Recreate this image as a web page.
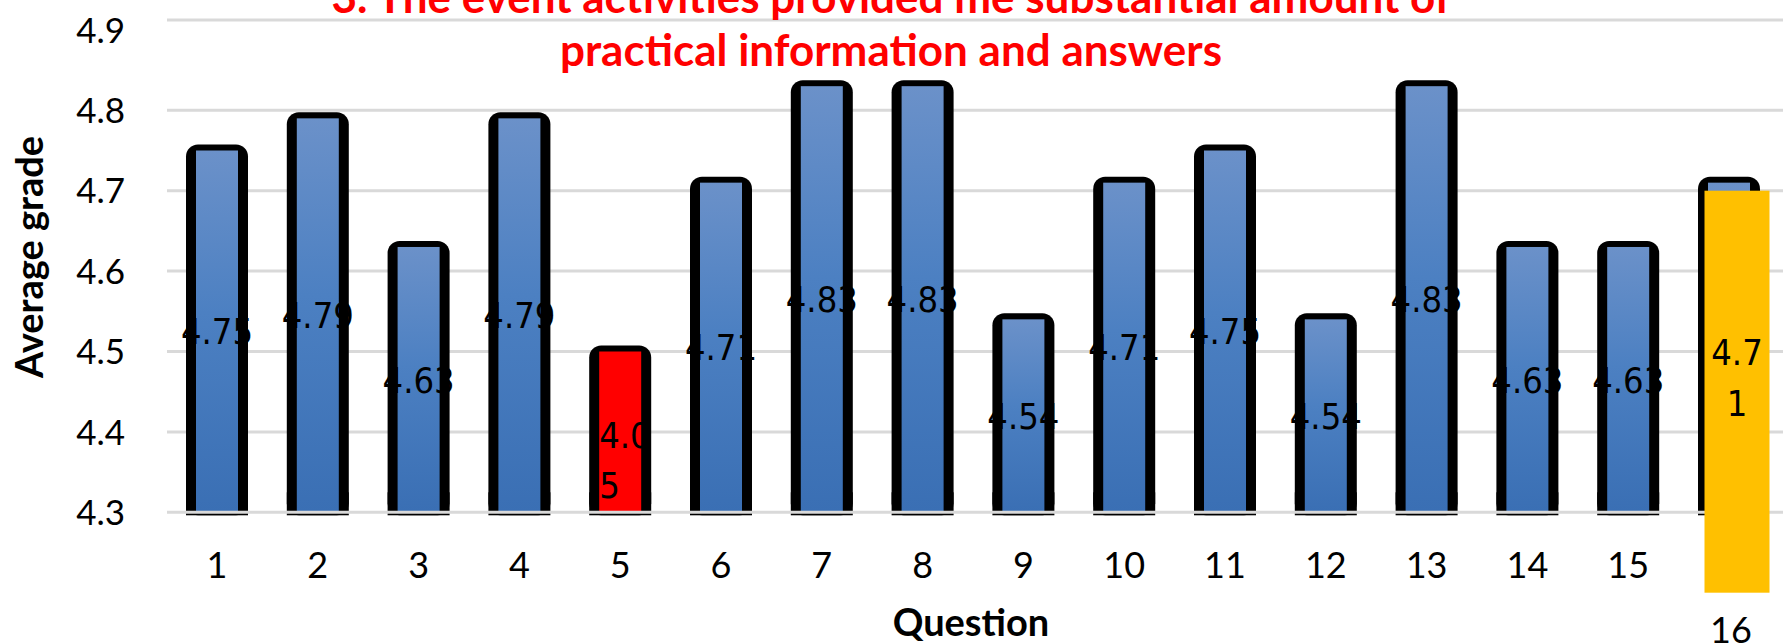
<!DOCTYPE html>
<html>
<head>
<meta charset="utf-8">
<script src="https://cdn.jsdelivr.net/npm/d3@7"></script>
<style>
  html, body { margin: 0; padding: 0; background: #fff; }
  svg { display: block; }
</style>
</head>
<body>
<div id="chart"></div>
<script>
const questions = ['1', '2', '3', '4', '5', '6', '7', '8', '9', '10', '11', '12', '13', '14', '15', '16']
const grades = [4.75, 4.79, 4.63, 4.79, 4.5, 4.71, 4.83, 4.83, 4.54, 4.71, 4.75, 4.54, 4.83, 4.63, 4.63, 4.71]
const gradeLabels = [['4.75'], ['4.79'], ['4.63'], ['4.79'], ['4.0', '5'], ['4.71'], ['4.83'], ['4.83'], ['4.54'], ['4.71'], ['4.75'], ['4.54'], ['4.83'], ['4.63'], ['4.63'], ['4.7', '1']]
const yTicks = [4.3, 4.4, 4.5, 4.6, 4.7, 4.8, 4.9]
// the yellow block laid over the last bar, from 4.2 up to 4.7
const highlightRange = [4.2, 4.7]
const titleLines = ['3. The event activities provided me substantial amount of', 'practical information and answers']

const render = () => {
  const width = 1783
  const height = 643
  const margin = { top: 30, right: 4, bottom: 131, left: 167 }

  const svg = d3
    .select('#chart')
    .append('svg')
    .attr('width', width)
    .attr('height', height)

  const defs = svg.append('defs')
  const grad = defs
    .append('linearGradient')
    .attr('id', 'blue')
    .attr('x1', 0)
    .attr('y1', 0)
    .attr('x2', 0)
    .attr('y2', 1)
  grad.append('stop').attr('offset', '0%').attr('stop-color', '#6b91c9')
  grad.append('stop').attr('offset', '45%').attr('stop-color', '#4c80c2')
  grad.append('stop').attr('offset', '100%').attr('stop-color', '#3a6fb4')

  const xScale = d3
    .scaleBand()
    .domain(questions)
    .range([166.6, 166.6 + 16 * 100.8])

  const yScale = d3
    .scaleLinear()
    .domain([4.3, 4.9])
    .range([512.3, 29.9])

  const bw = xScale.bandwidth()
  const outerW = 62
  const innerW = 42
  const y0 = yScale(4.3)

  // gridlines (top one sits a little higher, as in the picture)
  svg
    .append('g')
    .selectAll('line')
    .data(yTicks.slice(1))
    .enter()
    .append('line')
    .attr('x1', margin.left)
    .attr('x2', width)
    .attr('y1', (d) => (d === 4.9 ? yScale(d) - 10 : yScale(d)))
    .attr('y2', (d) => (d === 4.9 ? yScale(d) - 10 : yScale(d)))
    .attr('stroke', '#d9d9d9')
    .attr('stroke-width', 3)

  // y tick labels
  svg
    .append('g')
    .selectAll('text')
    .data(yTicks)
    .enter()
    .append('text')
    .attr('x', 125)
    .attr('y', (d) => yScale(d))
    .attr('dy', '0.36em')
    .attr('text-anchor', 'end')
    .attr('font-family', 'Lato, sans-serif')
    .attr('font-size', 35)
    .text((d) => d3.format('.1f')(d))

  // title
  svg
    .append('g')
    .selectAll('text')
    .data(titleLines)
    .enter()
    .append('text')
    .attr('x', 891)
    .attr('y', (d, i) => 13 + i * 53)
    .attr('text-anchor', 'middle')
    .attr('font-family', 'Lato, sans-serif')
    .attr('font-weight', 'bold')
    .attr('font-size', 44)
    .attr('fill', '#ff0000')
    .text((d) => d)

  const data = questions.map((q, i) => ({ q, v: grades[i], lines: gradeLabels[i], i }))

  const bars = svg.append('g')

  // black rounded outline
  bars
    .selectAll('rect.outline')
    .data(data)
    .enter()
    .append('rect')
    .attr('class', 'outline')
    .attr('x', (d) => xScale(d.q) + bw / 2 - outerW / 2)
    .attr('y', (d) => yScale(d.v) - 6)
    .attr('width', outerW)
    .attr('height', (d) => y0 + 3 - (yScale(d.v) - 6))
    .attr('rx', 12)
    .attr('fill', '#000')

  // square off the bottom corners
  bars
    .selectAll('rect.foot')
    .data(data)
    .enter()
    .append('rect')
    .attr('class', 'foot')
    .attr('x', (d) => xScale(d.q) + bw / 2 - outerW / 2)
    .attr('y', y0 - 20)
    .attr('width', outerW)
    .attr('height', 23)
    .attr('fill', '#000')

  bars
    .selectAll('rect.fill')
    .data(data)
    .enter()
    .append('rect')
    .attr('class', 'fill')
    .attr('x', (d) => xScale(d.q) + bw / 2 - innerW / 2)
    .attr('y', (d) => yScale(d.v))
    .attr('width', innerW)
    .attr('height', (d) => y0 - 1 - yScale(d.v))
    .attr('fill', (d) => (d.q === '5' ? '#ff0000' : 'url(#blue)'))

  // baseline over the bars
  svg
    .append('line')
    .attr('x1', margin.left)
    .attr('x2', width)
    .attr('y1', y0)
    .attr('y2', y0)
    .attr('stroke', '#d9d9d9')
    .attr('stroke-width', 3)

  // yellow block on question 16
  svg
    .append('rect')
    .attr('x', xScale('16') + bw / 2 + 8 - 32.5)
    .attr('y', yScale(highlightRange[1]))
    .attr('width', 65)
    .attr('height', yScale(highlightRange[0]) - yScale(highlightRange[1]))
    .attr('fill', '#ffc000')

  // data labels
  const labels = svg.append('g')
  data.forEach((d) => {
    const mid = (yScale(d.v) + y0) / 2
    const cx = xScale(d.q) + bw / 2
    d.lines.forEach((line, j) => {
      const t = labels
        .append('text')
        .attr('font-family', "'DejaVu Sans Condensed', 'DejaVu Sans', sans-serif")
        .attr('font-stretch', 'condensed')
        .attr('font-size', 36)
        .attr('dy', '0.36em')
        .text(line)
      if (d.lines.length === 1) {
        t.attr('x', cx).attr('y', mid).attr('text-anchor', 'middle')
      } else if (d.q === '5') {
        t.attr('x', cx - innerW / 2).attr('y', mid + 3 + j * 50).attr('text-anchor', 'start')
      } else {
        t.attr('x', cx + 8).attr('y', mid + 5 + j * 51).attr('text-anchor', 'middle')
      }
    })
  })

  // category labels
  svg
    .append('g')
    .selectAll('text')
    .data(questions)
    .enter()
    .append('text')
    .attr('x', (d) => xScale(d) + bw / 2 + (d === '16' ? 2 : 0))
    .attr('y', (d) => (d === '16' ? 643 : 578))
    .attr('text-anchor', 'middle')
    .attr('font-family', 'Lato, sans-serif')
    .attr('font-size', 36)
    .text((d) => d)

  // axis titles
  svg
    .append('text')
    .attr('x', 971)
    .attr('y', 636)
    .attr('text-anchor', 'middle')
    .attr('font-family', 'Lato, sans-serif')
    .attr('font-weight', 'bold')
    .attr('font-size', 38)
    .text('Question')

  svg
    .append('text')
    .attr('transform', 'translate(43, 257) rotate(-90)')
    .attr('text-anchor', 'middle')
    .attr('font-family', 'Lato, sans-serif')
    .attr('font-weight', 'bold')
    .attr('font-size', 38)
    .text('Average grade')
}

render()
</script>
</body>
</html>
